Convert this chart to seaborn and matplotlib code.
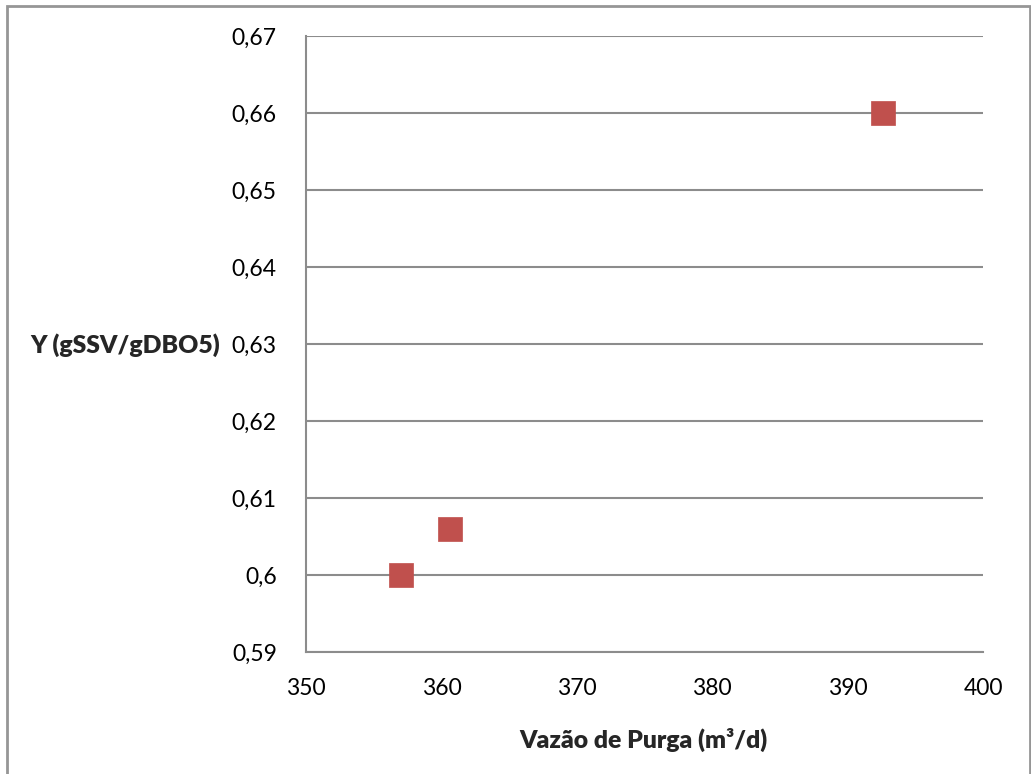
import matplotlib
matplotlib.use("Agg")
import matplotlib.pyplot as plt
from matplotlib.patches import Rectangle
from matplotlib.ticker import FixedLocator
import seaborn as sns
import pandas as pd

# Sludge wasting flow vs. observed yield coefficient
vazao_purga = [357.0, 360.6, 392.6]
yield_y = [0.600, 0.606, 0.660]

x_ticks = [350, 360, 370, 380, 390, 400]
y_ticks = [0.59, 0.60, 0.61, 0.62, 0.63, 0.64, 0.65, 0.66, 0.67]
y_tick_labels = ["0,59", "0,6", "0,61", "0,62", "0,63", "0,64", "0,65", "0,66", "0,67"]

x_label = "Vazão de Purga (m³/d)"
y_label = "Y (gSSV/gDBO5)"

sns.set_style("white")
plt.rcParams["font.family"] = ["Lato", "DejaVu Sans"]

df = pd.DataFrame({"vazao": vazao_purga, "Y": yield_y})

fig = plt.figure(figsize=(10.31, 7.74), dpi=100)
ax = fig.add_axes([306 / 1031, 1 - 652 / 774, 677 / 1031, 616 / 774])

grid_color = "#8c8c8c"
for yt in y_ticks:
    ax.axhline(yt, color=grid_color, lw=1.5, zorder=1)

sns.scatterplot(data=df, x="vazao", y="Y", marker="s", s=290, color="#C0504D",
                edgecolor="#C0504D", linewidth=0.5, ax=ax, zorder=3, legend=False)

ax.set_xlim(350, 400)
ax.set_ylim(0.59, 0.67)
ax.xaxis.set_major_locator(FixedLocator(x_ticks))
ax.set_xticklabels([str(v) for v in x_ticks])
ax.yaxis.set_major_locator(FixedLocator(y_ticks))
ax.set_yticklabels(y_tick_labels)
ax.tick_params(axis="both", length=0, labelsize=16.5, colors="black")
ax.tick_params(axis="y", pad=21)
ax.tick_params(axis="x", pad=19)

for side in ["top", "right"]:
    ax.spines[side].set_visible(False)
for side in ["left", "bottom"]:
    ax.spines[side].set_color(grid_color)
    ax.spines[side].set_linewidth(1.5)

ax.set_xlabel(x_label, fontsize=17.8, fontweight="heavy")
ax.xaxis.set_label_coords(0.498, -0.123)
ax.set_ylabel(y_label, fontsize=17.8, fontweight="heavy", rotation=0,
              ha="right", va="center")
ax.yaxis.set_label_coords(-0.127, 0.498)

# Chart area border
fig.patches.append(Rectangle((7 / 1031, -0.01), 1023 / 1031, 1.01 - 6 / 774,
                             transform=fig.transFigure, fill=False,
                             edgecolor="#969696", linewidth=2))

fig.savefig("out.png", dpi=100)
